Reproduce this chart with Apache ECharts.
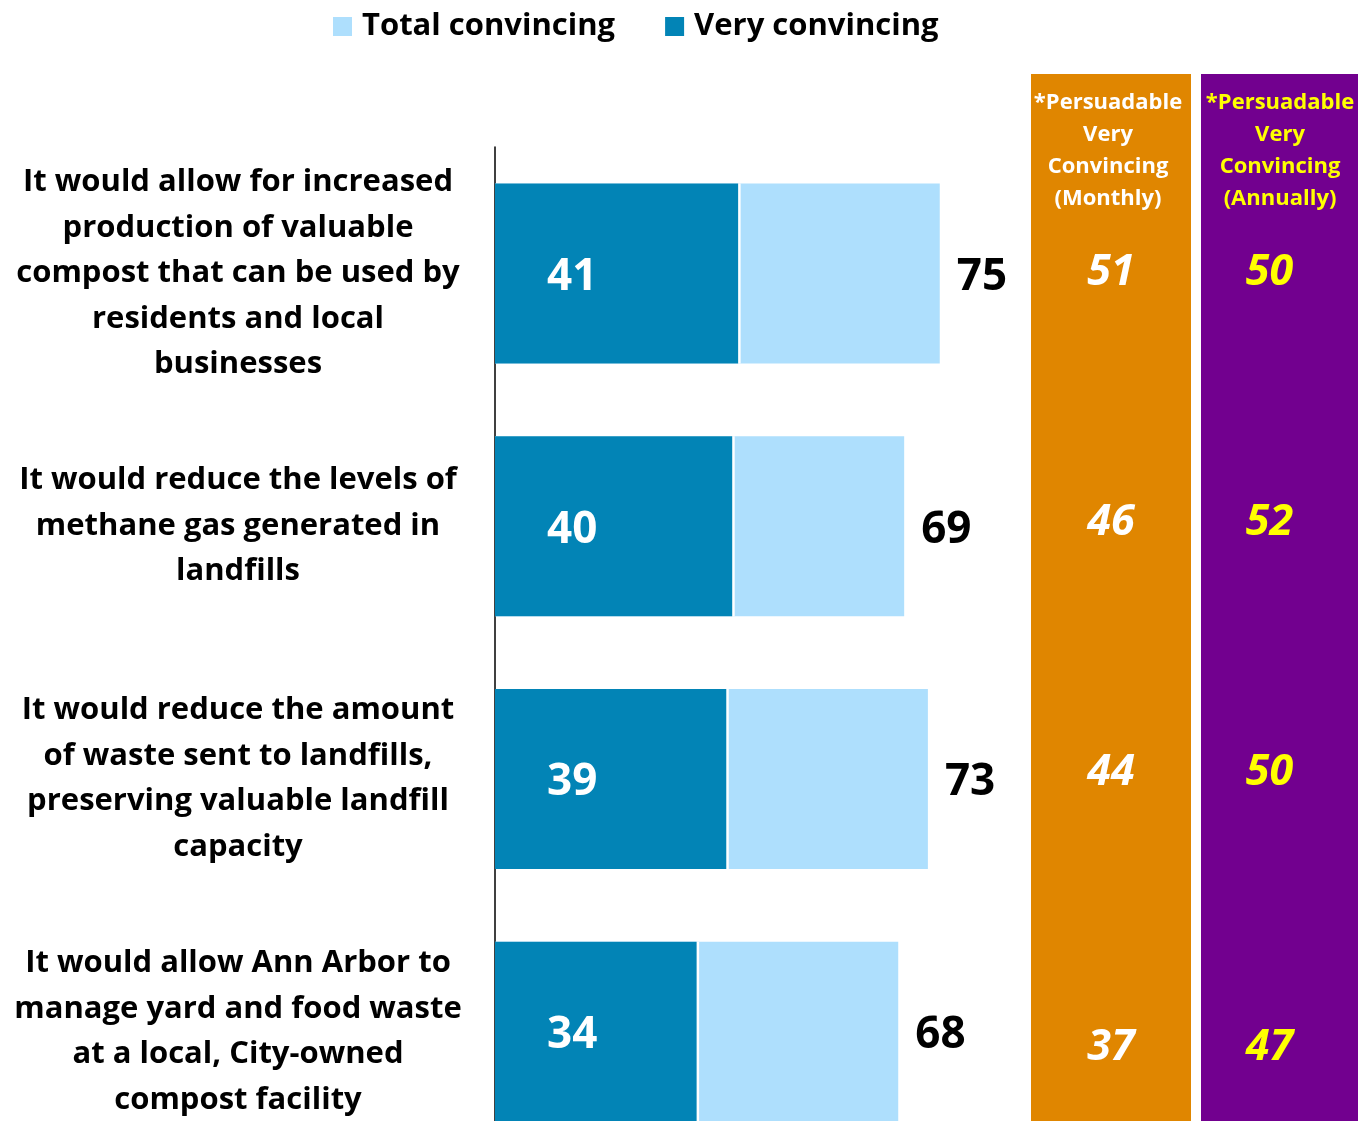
<!DOCTYPE html>
<html><head><meta charset="utf-8">
<script src="https://cdn.jsdelivr.net/npm/echarts@6/dist/echarts.min.js"></script>
<style>html,body{margin:0;padding:0;background:#fff;overflow:hidden}#c{width:1358px;height:1160px}</style>
</head><body><div id="c"></div>
<script>
const categories = [
  "It would allow for increased\nproduction of valuable\ncompost that can be used by\nresidents and local\nbusinesses",
  "It would reduce the levels of\nmethane gas generated in\nlandfills",
  "It would reduce the amount\nof waste sent to landfills,\npreserving valuable landfill\ncapacity",
  "It would allow Ann Arbor to\nmanage yard and food waste\nat a local, City-owned\ncompost facility"
];
const veryConvincing = [41, 40, 39, 34];
const totalConvincing = [75, 69, 73, 68];
const persuadableMonthly = [51, 46, 44, 37];
const persuadableAnnually = [50, 52, 50, 47];
const seriesNames = ["Total convincing", "Very convincing"];
const panelHeaders = ["*Persuadable\nVery\nConvincing\n(Monthly)", "*Persuadable\nVery\nConvincing\n(Annually)"];

const FONT = "Open Sans";
const chart = echarts.init(document.getElementById('c'), null, {renderer: 'canvas'});

function panelData(arr) {
  return arr.map((v, i) => ({
    value: [0, i, v],
    label: i === 3 ? {offset: [0, 25]} : undefined
  }));
}

const option = {
  backgroundColor: '#fff',
  animation: false,
  textStyle: {fontFamily: FONT},
  legend: {
    data: seriesNames,
    top: 6,
    left: 328,
    icon: 'rect',
    itemWidth: 19,
    itemHeight: 19,
    itemGap: 50,
    textStyle: {fontSize: 31, fontWeight: 'bold', color: '#000', fontFamily: FONT, padding: [0, 0, 0, 5]}
  },
  graphic: [
    {type: 'rect', z: 0, shape: {x: 1031, y: 74, width: 160, height: 1090}, style: {fill: '#E08600'}},
    {type: 'rect', z: 0, shape: {x: 1201, y: 74, width: 157, height: 1090}, style: {fill: '#72008F'}},
    {type: 'text', z: 1, x: 1108, y: 87, style: {text: panelHeaders[0], fill: '#fff', font: 'bold 22px "Open Sans"', textAlign: 'center', textVerticalAlign: 'top', lineHeight: 32}},
    {type: 'text', z: 1, x: 1280, y: 87, style: {text: panelHeaders[1], fill: '#FFFF00', font: 'bold 22px "Open Sans"', textAlign: 'center', textVerticalAlign: 'top', lineHeight: 32}}
  ],
  grid: [
    {left: 495, top: 147, width: 593, height: 1011},
    {left: 1031, top: 148, width: 160, height: 1000},
    {left: 1201, top: 148, width: 137, height: 1000}
  ],
  xAxis: [
    {type: 'value', gridIndex: 0, min: 0, max: 100, show: false},
    {type: 'category', gridIndex: 1, data: ['Monthly'], show: false},
    {type: 'category', gridIndex: 2, data: ['Annually'], show: false}
  ],
  yAxis: [
    {
      type: 'category', gridIndex: 0, inverse: true, data: categories,
      axisLine: {show: true, lineStyle: {color: '#000', width: 1.5}},
      axisTick: {show: false},
      axisLabel: {margin: 257, align: 'center', fontSize: 31, fontWeight: 'bold', lineHeight: 45.5, color: '#000', fontFamily: FONT}
    },
    {type: 'category', gridIndex: 1, inverse: true, data: categories, show: false},
    {type: 'category', gridIndex: 2, inverse: true, data: categories, show: false}
  ],
  series: [
    {
      name: seriesNames[0], type: 'bar', barWidth: 180, barGap: '-100%',
      xAxisIndex: 0, yAxisIndex: 0,
      data: totalConvincing,
      itemStyle: {color: '#AEDFFD'},
      label: {show: true, position: 'right', distance: 17, offset: [0, 4], color: '#000', fontSize: 44, fontWeight: 'bold', fontFamily: FONT}
    },
    {
      name: seriesNames[1], type: 'bar', barWidth: 180, barGap: '-100%',
      xAxisIndex: 0, yAxisIndex: 0,
      data: veryConvincing,
      itemStyle: {color: '#0284B6', shadowColor: '#fff', shadowOffsetX: 2.5, shadowBlur: 0},
      label: {show: true, position: 'insideLeft', distance: 52, offset: [0, 4], color: '#fff', fontSize: 44, fontWeight: 'bold', fontFamily: FONT}
    },
    {
      name: 'Monthly', type: 'scatter', xAxisIndex: 1, yAxisIndex: 1, silent: true,
      symbolSize: 1, itemStyle: {color: 'rgba(0,0,0,0)', opacity: 1},
      data: panelData(persuadableMonthly),
      label: {show: true, position: 'inside', color: '#fff', fontSize: 43, fontWeight: 'bold', fontStyle: 'italic', fontFamily: FONT,
        formatter: p => String(p.value[2])}
    },
    {
      name: 'Annually', type: 'scatter', xAxisIndex: 2, yAxisIndex: 2, silent: true,
      symbolSize: 1, itemStyle: {color: 'rgba(0,0,0,0)', opacity: 1},
      data: panelData(persuadableAnnually),
      label: {show: true, position: 'inside', color: '#FFFF00', fontSize: 43, fontWeight: 'bold', fontStyle: 'italic', fontFamily: FONT,
        formatter: p => String(p.value[2])}
    }
  ]
};
chart.setOption(option);
</script>
</body></html>
